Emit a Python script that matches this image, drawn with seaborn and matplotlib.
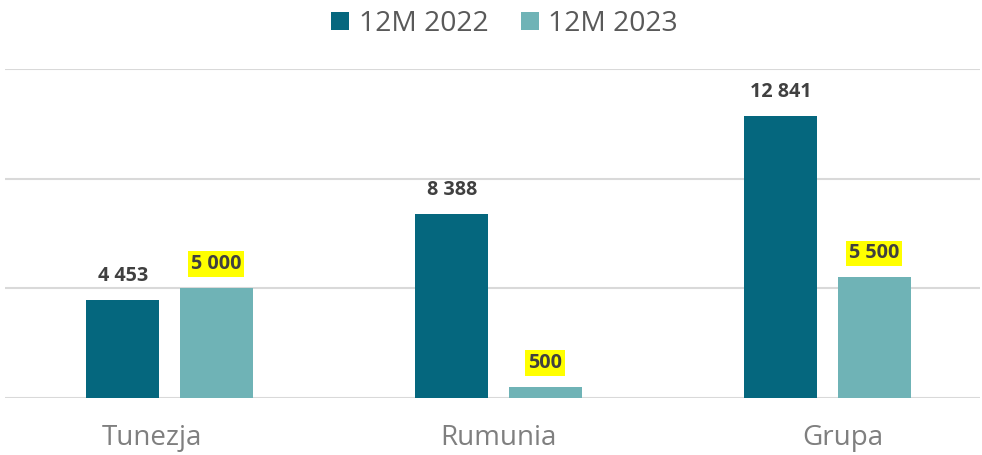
import matplotlib
matplotlib.use("Agg")
import matplotlib.pyplot as plt
import matplotlib.transforms as mtransforms
import seaborn as sns
import pandas as pd
from matplotlib.patches import Patch

categories = ["Tunezja", "Rumunia", "Grupa"]
series_names = ["12M 2022", "12M 2023"]
values_2022 = [4453, 8388, 12841]
values_2023 = [5000, 500, 5500]
yticks = [0, 5000, 10000, 15000]

colors = ["#05677E", "#6FB3B6"]

df = pd.DataFrame({
    "cat": categories * 2,
    "series": [series_names[0]] * 3 + [series_names[1]] * 3,
    "value": values_2022 + values_2023,
})

sns.set_theme(style="white")
plt.rcParams["font.family"] = ["Open Sans", "DejaVu Sans"]

fig = plt.figure(figsize=(9.82, 4.55), dpi=100)
ax = fig.add_axes([5 / 982, 57 / 455, 975 / 982, 329 / 455])

sns.barplot(data=df, x="cat", y="value", hue="series", palette=colors,
            width=0.568, gap=0.22, ax=ax, legend=False, saturation=1,
            edgecolor="none", linewidth=0)

ax.set_xlim(-0.5, 2.4635)
ax.set_ylim(0, 15000)
ax.set_yticks(yticks)
ax.set_yticklabels([])
ax.tick_params(axis="y", length=0)
ax.tick_params(axis="x", length=0, pad=19, labelsize=20, labelcolor="#7F7F7F")
ax.set_xlabel("")
ax.set_ylabel("")
ax.grid(axis="y", color="#D9D9D9", linewidth=1.5)
ax.set_axisbelow(True)
for s in ax.spines.values():
    s.set_visible(False)

# small horizontal offsets of category labels (pixels), as in the reference
label_shift_px = [-17.5, -0.5, 15]
for lbl, dx in zip(ax.get_xticklabels(), label_shift_px):
    lbl.set_transform(lbl.get_transform() + mtransforms.ScaledTranslation(dx / 100, 0, fig.dpi_scale_trans))

fmt = lambda v: f"{v:,}".replace(",", " ")
for i, cont in enumerate(ax.containers):
    vals = values_2022 if i == 0 else values_2023
    texts = ax.bar_label(cont, labels=[fmt(v) for v in vals], padding=10,
                         fontsize=14.2, fontweight="bold", color="#404040")
    if i == 1:
        for t in texts:
            t.set_bbox(dict(facecolor="#FFFF00", edgecolor="none", pad=2.2))

handles = [Patch(facecolor=c, edgecolor="none") for c in colors]
fig.legend(handles, series_names, loc="center", bbox_to_anchor=(504.5 / 982, 1 - 24 / 455),
           ncol=2, frameon=False, fontsize=20.3, labelcolor="#595959",
           handlelength=0.64, handleheight=0.64, handletextpad=0.33, columnspacing=1.15)

fig.savefig("out.png", dpi=100)
